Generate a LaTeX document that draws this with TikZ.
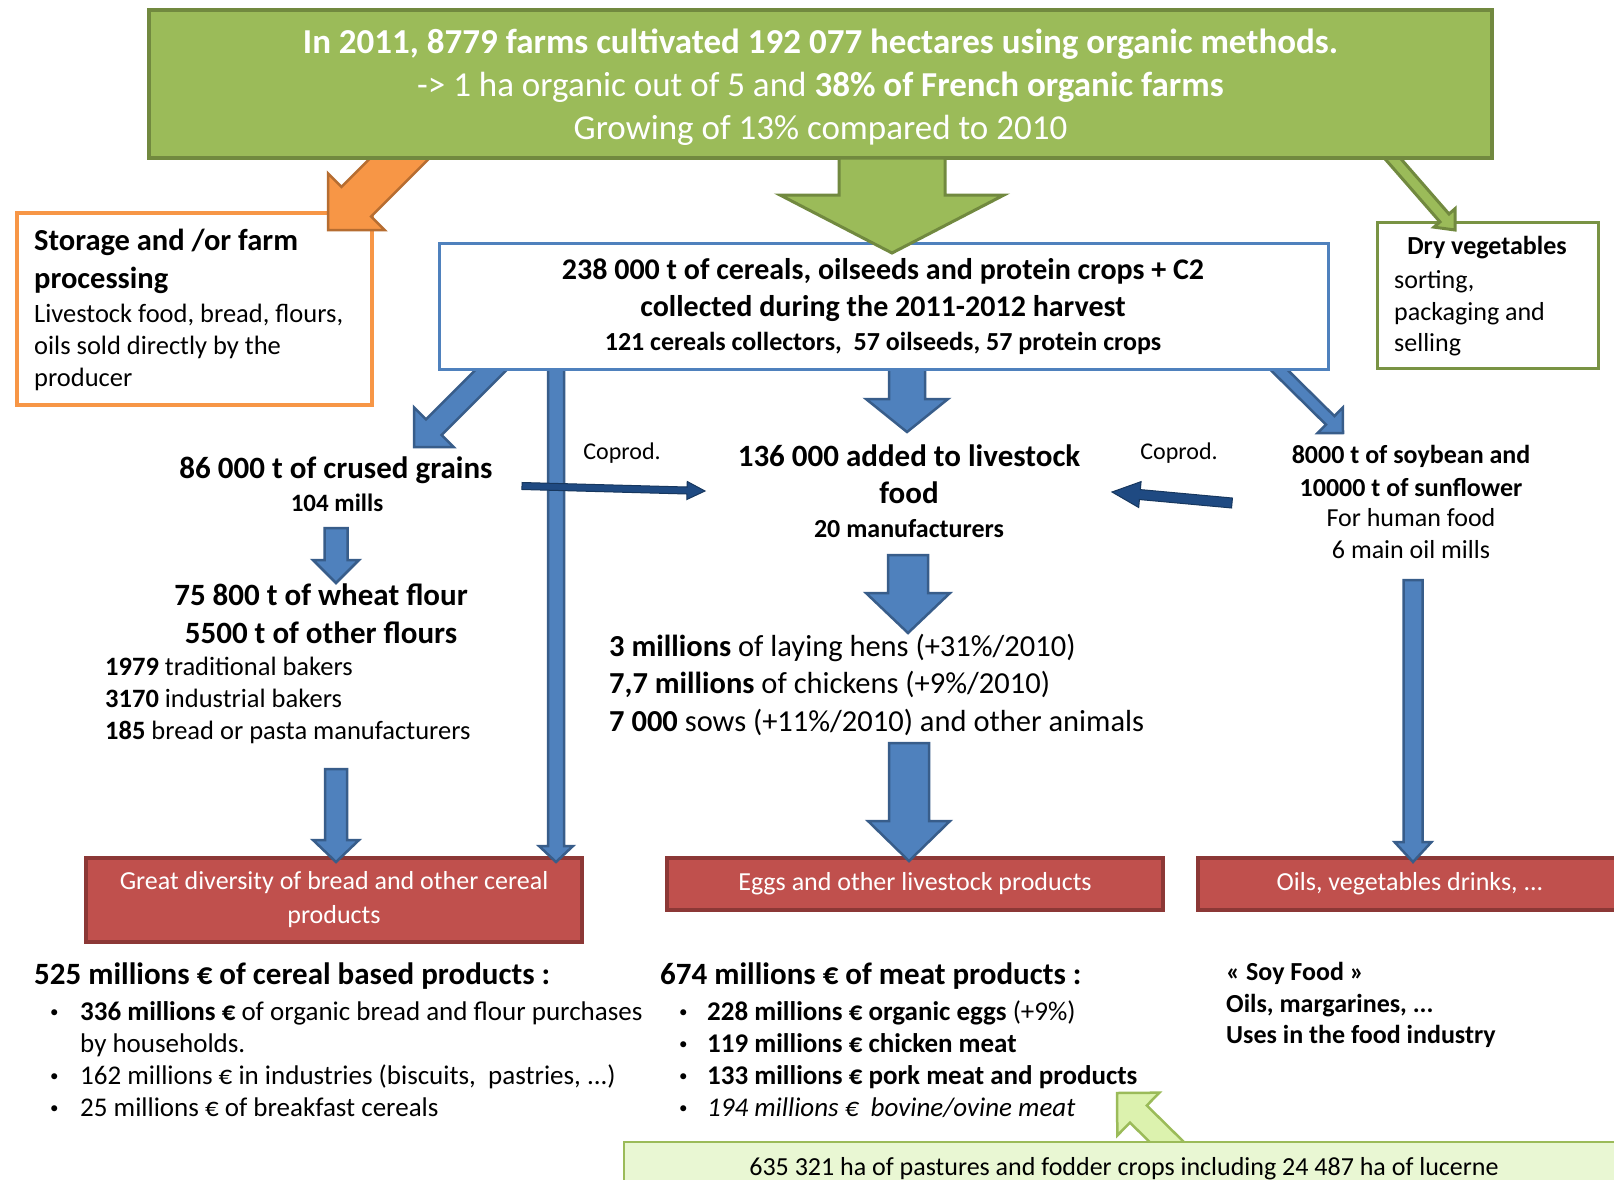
\documentclass[tikz,border=0pt]{standalone}
\usepackage{fontspec}
\setmainfont{Carlito}
\usetikzlibrary{calc}

\definecolor{grnF}{HTML}{9BBB59}
\definecolor{grnD}{HTML}{71893F}
\definecolor{bluF}{HTML}{4F81BD}
\definecolor{bluD}{HTML}{385D8A}
\definecolor{orgF}{HTML}{F79646}
\definecolor{orgD}{HTML}{B66D31}
\definecolor{redF}{HTML}{C0504D}
\definecolor{redD}{HTML}{8C3836}
\definecolor{navy}{HTML}{1F4A82}
\definecolor{navyD}{HTML}{17375E}
\definecolor{paleG}{HTML}{E9F7D3}
\definecolor{paleA}{HTML}{DCF2AE}

\pgfdeclarelayer{front}
\pgfsetlayers{main,front}

\newcommand{\fsz}[2]{\fontsize{#1}{#2}\selectfont}
\newcommand{\bul}[2][30pt]{\makebox[#1][l]{{\fsz{17}{17}\raisebox{2.5pt}{\textbullet}}}#2}

% block arrow: [style]{from}{to}{shaft half width}{head half width}{head length}
\newcommand{\fatarrow}[6][]{%
  \coordinate (fab) at ($(#3)!#6pt!(#2)$);
  \draw[#1] ($(#2)!#4pt!90:(#3)$) -- ($(fab)!#4pt!90:(#3)$) -- ($(fab)!#5pt!90:(#3)$)
    -- (#3) -- ($(fab)!#5pt!-90:(#3)$) -- ($(fab)!#4pt!-90:(#3)$)
    -- ($(#2)!#4pt!-90:(#3)$) -- cycle;}

\begin{document}
\begin{tikzpicture}[x=1pt, y=-1pt,
  box/.style={inner sep=0pt, align=center},
  farmbox/.style={box, fill=grnF, draw=grnD, line width=4pt},
  collbox/.style={box, fill=white, draw=bluF, line width=3pt},
  storbox/.style={box, fill=white, draw=orgF, line width=3.5pt},
  drybox/.style={box, fill=white, draw=grnD!80!grnF, line width=3pt},
  prodbox/.style={box, fill=redF, draw=redD, line width=4pt, text=white, font=\fsz{26}{34}},
  pastbox/.style={box, fill=paleG, draw=grnF, line width=2.5pt, font=\fsz{26}{32}},
  lbl/.style={inner sep=0pt, align=center},
  lblL/.style={inner sep=0pt, align=left, anchor=west},
  blueArrow/.style={fill=bluF, draw=bluD, line width=2.5pt},
  greenArrow/.style={fill=grnF, draw=grnD, line width=3pt},
  orangeArrow/.style={fill=orgF, draw=orgD, line width=2.5pt},
  paleArrow/.style={fill=paleA, draw=grnF, line width=2.5pt},
  coprodArrow/.style={fill=navy, draw=navyD, line width=1pt}]

\fill[white] (0,0) rectangle (1614,1180);
\useasboundingbox (0,0) rectangle (1614,1180);

% boxes fed by the arrows
\node[storbox, minimum width=355pt, minimum height=192pt] (stor) at (194.5,309) {};
\node[lblL, font=\fsz{30.5}{38}\bfseries] (storT) at (34,261) {Storage and /or farm\\processing};
\node[lblL, font=\fsz{26.5}{32}] (storB) at (34,347) {Livestock food, bread, flours,\\oils sold directly by the\\producer};

\node[drybox, minimum width=221pt, minimum height=146pt] (dry) at (1487.5,295) {};
\node[lbl, font=\fsz{26}{31}\bfseries] (dryT) at (1487,248) {Dry vegetables};
\node[lblL, font=\fsz{26}{31.5}] (dryB) at (1394,313.5) {sorting,\\packaging and\\selling};

\node[lbl, font=\fsz{31}{38}\bfseries] (crush) at (336,470) {86 000 t of crused grains};
\node[lbl, font=\fsz{25}{30}\bfseries] (mills) at (337,503) {104 mills};
\node[lbl, font=\fsz{24}{30}] (cpL) at (622,453) {Coprod.};
\node[lbl, font=\fsz{31}{37}\bfseries] (feed) at (909,474.5) {136 000 added to livestock\\food};
\node[lbl, font=\fsz{26}{30}\bfseries] (mfr) at (909,529) {20 manufacturers};
\node[lbl, font=\fsz{24}{30}] (cpR) at (1179,453) {Coprod.};
\node[lbl, font=\fsz{26}{33}\bfseries] (soy) at (1411,470.5) {8000 t of soybean and\\10000 t of sunflower};
\node[lbl, font=\fsz{26}{32}] (oil) at (1411,534) {For human food\\6 main oil mills};

\node[lbl, font=\fsz{31}{38}\bfseries] (flour) at (321,614) {75 800 t of wheat flour\\5500 t of other flours};
\node[lblL, font=\fsz{26.5}{32}] (bakers) at (105,700)
  {\textbf{1979} traditional bakers\\\textbf{3170} industrial bakers\\\textbf{185} bread or pasta manufacturers};
\node[lblL, font=\fsz{30.5}{37.5}] (anim) at (609,684.5)
  {\textbf{3 millions} of laying hens (+31\%/2010)\\\textbf{7,7 millions} of chickens (+9\%/2010)\\\textbf{7 000} sows (+11\%/2010) and other animals};

\node[prodbox, minimum width=496pt, minimum height=84pt] (redL) at (334,900) {Great diversity of bread and other cereal\\products};
\node[prodbox, minimum width=496pt, minimum height=52pt] (redM) at (915,884) {Eggs and other livestock products};
\node[prodbox, minimum width=424pt, minimum height=52pt] (redR) at (1410,884) {Oils, vegetables drinks, ...};

\node[lblL, font=\fsz{31}{38}\bfseries] (cerH) at (34,976) {525 millions € of cereal based products :};
\node[lblL, font=\fsz{27}{32}] (cerL) at (50,1059)
  {\bul{\textbf{336 millions €} of organic bread and flour purchases}\\
   \hspace*{30pt}by households.\\
   \bul{162 millions € in industries (biscuits,\ \ pastries, ...)}\\
   \bul{25 millions € of breakfast cereals}};
\node[lblL, font=\fsz{31}{38}\bfseries] (meatH) at (660,976) {674 millions € of meat products :};
\node[lblL, font=\fsz{27}{32}] (meatL) at (679,1059)
  {\bul[28pt]{\textbf{228 millions € organic eggs} (+9\%)}\\
   \bul[28pt]{\textbf{119 millions € chicken meat}}\\
   \bul[28pt]{\textbf{133 millions € pork meat and products}}\\
   \bul[28pt]{\textit{194 millions €\ \ bovine/ovine meat}}};
\node[lblL, font=\fsz{26}{31.5}\bfseries] (soyF) at (1226,1005) {« Soy Food »\\Oils, margarines, ...\\Uses in the food industry};

% boxes the arrows come out of
\begin{pgfonlayer}{front}
\node[farmbox, minimum width=1343pt, minimum height=148pt] (farms) at (820.5,84) {};
\node[lbl, font=\fsz{35}{43}, text=white] (farmsT) at (820.5,87.5)
  {\textbf{In 2011, 8779 farms cultivated 192 077 hectares using organic methods.}\\
   -> 1 ha organic out of 5 and \textbf{38\% of French organic farms}\\
   Growing of 13\% compared to 2010};
\node[collbox, minimum width=889pt, minimum height=126pt] (coll) at (883.5,306) {};
\node[lbl, font=\fsz{30}{37}\bfseries] (collT) at (883,290.5)
  {238 000 t of cereals, oilseeds and protein crops + C2\\collected during the 2011-2012 harvest};
\node[lbl, font=\fsz{26}{32}\bfseries] (collB) at (883,343.5) {121 cereals collectors,\ \ 57 oilseeds, 57 protein crops};
\node[pastbox, minimum width=1000pt, minimum height=54pt] (past) at (1124,1169)
  {635 321 ha of pastures and fodder crops including 24 487 ha of lucerne};
\end{pgfonlayer}

% arrow ends
\coordinate (g1) at (892,158);   \coordinate (g2) at (892,253);
\coordinate (o1) at (415,143);   \coordinate (o2) at (328,230);
\coordinate (d1) at (1380,144);  \coordinate (d2) at (1455,230);
\coordinate (b1) at (506,355);   \coordinate (b2) at (414,447);
\coordinate (v1) at (556,360);   \coordinate (v2) at (556,862);
\coordinate (c1) at (907,360);   \coordinate (c2) at (907,432);
\coordinate (r1) at (1268,359);  \coordinate (r2) at (1343,433);
\coordinate (f1) at (336,528);   \coordinate (f2) at (336,583);
\coordinate (k1) at (336,769);   \coordinate (k2) at (336,862);
\coordinate (a1) at (908,555);   \coordinate (a2) at (908,633);
\coordinate (m1) at (909,743);   \coordinate (m2) at (909,861);
\coordinate (s1) at (1413,580);  \coordinate (s2) at (1413,862);
\coordinate (p1) at (522,486);   \coordinate (p2) at (705,491);
\coordinate (q1) at (1232,503);  \coordinate (q2) at (1112,492);
\coordinate (u1) at (1180,1155); \coordinate (u2) at (1117,1093);

\fatarrow[orangeArrow]{o1}{o2}{21}{40}{40}
\fatarrow[greenArrow]{d1}{d2}{6}{14}{16}
\fatarrow[blueArrow]{b1}{b2}{11}{28}{28}
\fatarrow[blueArrow]{v1}{v2}{8}{17}{16}
\fatarrow[blueArrow]{c1}{c2}{18}{41}{33}
\fatarrow[blueArrow]{r1}{r2}{6}{18}{18}
\fatarrow[blueArrow]{f1}{f2}{11.5}{23}{23}
\fatarrow[blueArrow]{k1}{k2}{11}{23}{22}
\fatarrow[blueArrow]{a1}{a2}{20}{42}{40}
\fatarrow[blueArrow]{m1}{m2}{20}{41}{40}
\fatarrow[blueArrow]{s1}{s2}{9.5}{18.5}{20}
\fatarrow[coprodArrow]{p1}{p2}{3.5}{9}{18}
\fatarrow[coprodArrow]{q1}{q2}{5}{13}{28}
\fatarrow[paleArrow]{u1}{u2}{12}{30}{30}
\begin{pgfonlayer}{front}
\fatarrow[greenArrow]{g1}{g2}{53}{112}{58}
\end{pgfonlayer}
\end{tikzpicture}
\end{document}
